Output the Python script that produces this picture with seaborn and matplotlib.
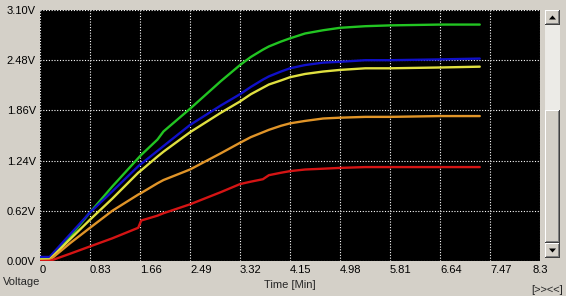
import matplotlib
matplotlib.use("Agg")
import matplotlib.pyplot as plt
from matplotlib.patches import Rectangle, Polygon
import seaborn as sns
import pandas as pd

# ---- data ----
time_min = [0, 0.16, 0.5, 0.83, 1.2, 1.63, 1.68, 1.95, 2.05, 2.49, 3.0, 3.32,
            3.5, 3.7, 3.8, 4.0, 4.15, 4.4, 4.7, 4.98, 5.4, 5.81, 6.64, 7.3]
green = [0.03, 0.03, 0.30, 0.60, 0.92, 1.27, 1.31, 1.50, 1.60, 1.88, 2.22, 2.42,
         2.52, 2.61, 2.65, 2.71, 2.75, 2.81, 2.85, 2.88, 2.90, 2.91, 2.92, 2.92]
blue = [0.05, 0.05, 0.33, 0.60, 0.86, 1.17, 1.20, 1.36, 1.42, 1.68, 1.92, 2.06,
        2.15, 2.24, 2.28, 2.34, 2.38, 2.42, 2.45, 2.46, 2.48, 2.48, 2.49, 2.50]
yellow = [0.02, 0.02, 0.27, 0.51, 0.77, 1.09, 1.12, 1.29, 1.35, 1.59, 1.83, 1.97,
          2.06, 2.14, 2.18, 2.23, 2.27, 2.31, 2.34, 2.36, 2.38, 2.38, 2.39, 2.40]
orange = [0.0, 0.01, 0.22, 0.41, 0.62, 0.82, 0.84, 0.96, 1.00, 1.13, 1.33, 1.46,
          1.53, 1.59, 1.62, 1.67, 1.70, 1.73, 1.76, 1.77, 1.78, 1.78, 1.79, 1.79]
red = [0.0, 0.0, 0.09, 0.18, 0.28, 0.41, 0.50, 0.56, 0.59, 0.70, 0.85, 0.95,
       0.98, 1.01, 1.06, 1.09, 1.11, 1.13, 1.14, 1.15, 1.16, 1.16, 1.16, 1.16]

series_names = ["green", "blue", "yellow", "orange", "red"]
series_values = [green, blue, yellow, orange, red]
series_colors = ["#22c422", "#1010c8", "#e0e040", "#e09428", "#d41414"]

x_ticks = [0, 0.83, 1.66, 2.49, 3.32, 4.15, 4.98, 5.81, 6.64, 7.47, 8.3]
x_labels = ["0", "0.83", "1.66", "2.49", "3.32", "4.15", "4.98", "5.81", "6.64", "7.47", "8.3"]
y_ticks = [0.0, 0.62, 1.24, 1.86, 2.48, 3.10]
y_labels = ["0.00V", "0.62V", "1.24V", "1.86V", "2.48V", "3.10V"]

rows = []
for name, vals in zip(series_names, series_values):
    for t, v in zip(time_min, vals):
        rows.append({"time": t, "volt": v, "ch": name})
df = pd.DataFrame(rows)

# ---- figure ----
sns.set_style("white")
plt.rcParams["font.family"] = ["Liberation Sans", "DejaVu Sans"]
W, H = 566, 296
BG = "#d4d0c8"
FS = 8
fig = plt.figure(figsize=(W / 100, H / 100), dpi=100, facecolor=BG)
ax = fig.add_axes([40 / W, (H - 261) / H, 500 / W, 251 / H])
ax.set_facecolor("black")

sns.lineplot(data=df, x="time", y="volt", hue="ch", palette=dict(zip(series_names, series_colors)),
             hue_order=series_names, linewidth=1.7, legend=False, ax=ax, sort=False)

ax.set_xlim(0, 8.3)
ax.set_ylim(0, 3.10)
ax.set_xticks(x_ticks)
ax.set_xticklabels(x_labels)
ax.set_yticks(y_ticks)
ax.set_yticklabels(y_labels)
for lab in ax.get_xticklabels():
    lab.set_horizontalalignment("left")
ax.get_xticklabels()[-1].set_horizontalalignment("center")
ax.tick_params(axis="both", length=0, labelsize=FS, colors="black")
ax.tick_params(axis="x", pad=3)
ax.tick_params(axis="y", pad=3)
ax.grid(True, color="white", linestyle=(0, (1, 1.5)), linewidth=0.8)
ax.set_axisbelow(True)
for s in ax.spines.values():
    s.set_visible(False)
ax.set_xlabel("")
ax.set_ylabel("")

# bottom texts
fig.text(3 / W, 1 - 282 / H, "Voltage", fontsize=FS, ha="left", va="center")
fig.text(290 / W, 1 - 285 / H, "Time [Min]", fontsize=FS, ha="center", va="center")
fig.text(563 / W, 1 - 290 / H, "[>><<]", fontsize=FS, ha="right", va="center")

# ---- scrollbar decoration (figure pixel coords) ----
def px_rect(x0, y0, x1, y1, **kw):
    fig.patches.append(Rectangle((x0 / W, 1 - y1 / H), (x1 - x0) / W, (y1 - y0) / H,
                                 transform=fig.transFigure, **kw))

def button(x0, y0, x1, y1):
    px_rect(x0, y0, x1, y1, facecolor="#404040", edgecolor="none")
    px_rect(x0, y0, x1 - 1, y1 - 1, facecolor="white", edgecolor="none")
    px_rect(x0 + 1, y0 + 1, x1 - 1, y1 - 1, facecolor="#808080", edgecolor="none")
    px_rect(x0 + 1, y0 + 1, x1 - 2, y1 - 2, facecolor=BG, edgecolor="none")

px_rect(545, 10, 560, 258, facecolor="#ecebe7", edgecolor="none")
button(545, 10, 560, 25)
button(545, 110, 560, 243)
button(545, 243, 560, 258)

def tri(cx, cy, up=True):
    if up:
        pts = [(cx - 3.5, cy + 2), (cx + 3.5, cy + 2), (cx, cy - 2)]
    else:
        pts = [(cx - 3.5, cy - 2), (cx + 3.5, cy - 2), (cx, cy + 2)]
    fig.patches.append(Polygon([(x / W, 1 - y / H) for x, y in pts], closed=True,
                               transform=fig.transFigure, facecolor="black", edgecolor="none"))

tri(552.5, 17.5, up=True)
tri(552.5, 250.5, up=False)

fig.savefig("out.png", dpi=100, facecolor=BG)
